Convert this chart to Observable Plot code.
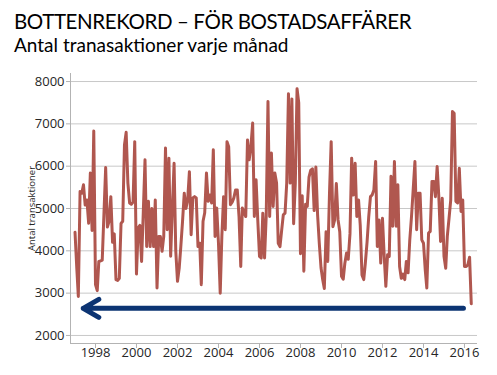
<!DOCTYPE html>
<html>
<head>
<meta charset="utf-8">
<script src="https://cdn.jsdelivr.net/npm/d3@7"></script>
<script src="https://cdn.jsdelivr.net/npm/@observablehq/plot@0.6"></script>
<style>
  body { margin: 0; background: #fff; width: 497px; height: 375px; overflow: hidden; }
  #head { position: relative; height: 62px; }
  #t1 { position: absolute; left: 14px; top: 11px; font-family: Lato, sans-serif; font-size: 20.5px; letter-spacing: -0.4px; line-height: 1; color: #000; white-space: nowrap; }
  #t2 { position: absolute; left: 14px; top: 35px; font-family: Lato, sans-serif; font-size: 19px; line-height: 1; color: #000; white-space: nowrap; }
  #chart svg { display: block; }
</style>
</head>
<body>
<div id="head">
  <div id="t1">BOTTENREKORD – FÖR BOSTADSAFFÄRER</div>
  <div id="t2">Antal tranasaktioner varje månad</div>
</div>
<div id="chart"></div>
<script>
// ---- data (monthly, starting January 1997) ----
const startYear = 1997;
const startMonth = 0; // January
const transactions = [
  4440, 3600, 2920, 5400, 5360, 5560, 5080, 5200, 4650, 5840, 4480, 6830,
  3200, 3060, 3750, 3760, 3780, 4900, 5970, 4560, 4700, 5280, 4200, 4400,
  3320, 3300, 3350, 4650, 4700, 6500, 6800, 5600, 5130, 5100, 5150, 6580,
  3450, 4550, 4600, 3750, 4900, 6150, 4100, 5170, 4100, 5000, 4100, 5200,
  3120, 4340, 4340, 3990, 4340, 6430, 4500, 6190, 3870, 5000, 6070, 4000,
  3280, 3600, 4100, 4700, 5360, 5000, 5200, 5870, 4380, 5250, 5280, 5250,
  4100, 4180, 3200, 4700, 4900, 5840, 5170, 5320, 5130, 6390, 4340, 5010,
  4180, 3000, 4340, 5280, 4500, 6580, 6460, 5090, 5150, 5250, 5440, 5440,
  4810, 3630, 5010, 4900, 4810, 6620, 6150, 6460, 7020, 4810, 5680, 4730,
  3870, 3830, 4890, 3830, 4850, 7530, 4810, 6310, 5050, 5840, 5600, 4180,
  4100, 4500, 4850, 4890, 5600, 7710, 5600, 7590, 4640, 5600, 7830, 7500,
  3930, 5300, 3520, 5100, 5050, 5740, 5900, 5940, 4950, 5980, 4850, 4180,
  3600, 3310, 3110, 4450, 3750, 5360, 6580, 4570, 4730, 5590, 4730, 4450,
  3400, 3330, 3700, 3950, 3800, 4400, 6190, 5320, 6070, 4810, 5200, 4600,
  3430, 3320, 3700, 4200, 4800, 5280, 5320, 5440, 6110, 4100, 4730, 3710,
  4770, 3870, 3160, 3910, 3870, 5760, 4580, 6110, 4580, 5560, 3630, 3350,
  3450, 3320, 3750, 3480, 4250, 4810, 5440, 6110, 4500, 5360, 5360, 4260,
  4180, 3550, 3120, 4420, 4460, 5640, 5640, 5280, 5990, 5280, 4220, 5240,
  3870, 3590, 4340, 4770, 5200, 7290, 7250, 5170, 5130, 5950, 4930, 5200,
  3630, 3630, 3670, 3850, 2750
];
const yTicks = [2000, 3000, 4000, 5000, 6000, 7000, 8000];
const xTickYears = [1998, 2000, 2002, 2004, 2006, 2008, 2010, 2012, 2014, 2016];
const yAxisLabel = "Antal transaktioner";
// arrow: from ~start of 2016 back to early 1997 at the record-low level
const arrowLevel = 2640;
const arrowFromYear = 2015.95;
const arrowToYear = 1997.40;
const yDomain = [1810, 8190];
const xDomainYears = [1996.78, 2016.634];

// ---- helpers ----
function yearDate(y) {
  const yr = Math.floor(y);
  const s = Date.UTC(yr, 0, 1), e = Date.UTC(yr + 1, 0, 1);
  return new Date(s + (y - yr) * (e - s));
}
const series = transactions.map((v, i) => ({
  date: new Date(Date.UTC(startYear, startMonth + i, 1)),
  value: v
}));
const xTickDates = xTickYears.map(y => new Date(Date.UTC(y, 0, 1)));
const xDomain = xDomainYears.map(yearDate);

const chart = Plot.plot({
  width: 497,
  height: 313,
  marginTop: 11,
  marginBottom: 32,
  marginLeft: 70,
  marginRight: 20,
  style: { fontFamily: "'Open Sans', sans-serif", background: "#fff" },
  x: { type: "utc", domain: xDomain },
  y: { domain: yDomain },
  marks: [
    Plot.gridY(yTicks, { stroke: "#c8c8c8", strokeOpacity: 1, strokeWidth: 1 }),
    Plot.ruleX([xDomain[0]], { stroke: "#b3b3b3", strokeWidth: 1 }),
    Plot.ruleY([yDomain[0]], { stroke: "#b3b3b3", strokeWidth: 1 }),
    Plot.axisY(yTicks, {
      tickSize: 4, tickPadding: 2, fontSize: 13, label: null,
      tickFormat: d => String(d), stroke: "#b3b3b3", fill: "#262626"
    }),
    Plot.axisX(xTickDates, {
      tickSize: 5, tickPadding: -1, fontSize: 13, label: null,
      tickFormat: d3.utcFormat("%Y"), stroke: "#b3b3b3", fill: "#262626"
    }),
    Plot.text([yAxisLabel], {
      frameAnchor: "left", dx: -39, rotate: -90, text: d => d,
      textAnchor: "middle", fontSize: 9.5, fill: "#262626"
    }),
    Plot.line(series, {
      x: "date", y: "value", stroke: "#b0574f", strokeWidth: 3,
      strokeLinejoin: "round", strokeLinecap: "round"
    }),
    Plot.arrow([{ x1: yearDate(arrowFromYear), x2: yearDate(arrowToYear), y: arrowLevel }], {
      x1: "x1", x2: "x2", y1: "y", y2: "y",
      stroke: "#0c3473", strokeWidth: 5, headLength: 5.4, headAngle: 60
    })
  ]
});
document.getElementById("chart").appendChild(chart);
</script>
</body>
</html>
